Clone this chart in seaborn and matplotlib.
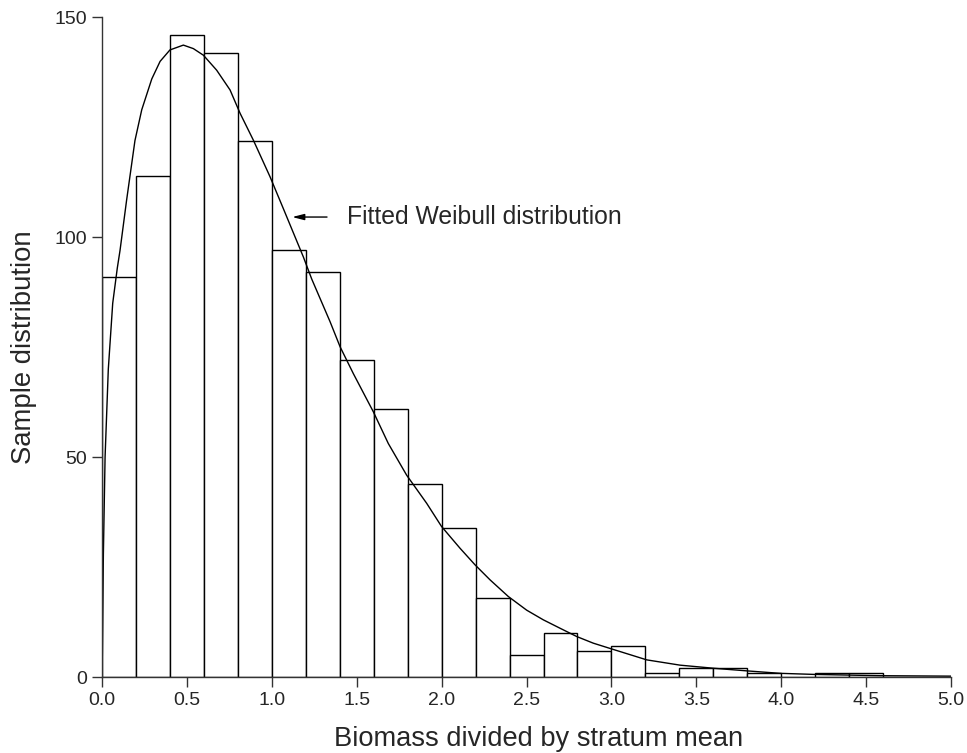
import numpy as np
import pandas as pd
import matplotlib
matplotlib.use("Agg")
import matplotlib.pyplot as plt
import seaborn as sns

# Histogram of biomass relative to the stratum mean (bin width 0.2)
bin_edges = [0.0, 0.2, 0.4, 0.6, 0.8, 1.0, 1.2, 1.4, 1.6, 1.8, 2.0, 2.2, 2.4,
             2.6, 2.8, 3.0, 3.2, 3.4, 3.6, 3.8, 4.0, 4.2, 4.4, 4.6, 4.8, 5.0]
counts = [91, 114, 146, 142, 122, 97, 92, 72, 61, 44, 34, 18, 5,
          10, 6, 7, 1, 2, 2, 1, 0, 1, 1, 0, 0]

# Fitted Weibull curve, scaled to the histogram counts
weibull_x = [0.0, 0.002, 0.008, 0.018, 0.037, 0.063, 0.09, 0.106, 0.145, 0.194,
             0.234, 0.293, 0.342, 0.4, 0.479, 0.538, 0.597, 0.675, 0.754, 0.813,
             0.891, 0.989, 1.068, 1.127, 1.186, 1.235, 1.343, 1.402, 1.48, 1.598,
             1.686, 1.794, 1.912, 2.0, 2.108, 2.197, 2.285, 2.393, 2.501, 2.599,
             2.697, 2.796, 2.893, 2.992, 3.208, 3.404, 3.6, 3.797, 3.993, 4.19,
             4.386, 4.58, 5.0]
weibull_y = [0.0, 5.4, 28.0, 50.0, 70.0, 85.0, 93.0, 97.0, 108.5, 122.0,
             129.0, 136.0, 140.0, 142.6, 143.7, 142.9, 141.4, 138.0, 133.5, 128.2,
             122.1, 113.8, 106.5, 101.0, 95.5, 90.5, 80.8, 75.1, 69.0, 60.3,
             53.1, 45.9, 39.5, 34.2, 29.3, 25.5, 22.1, 18.3, 15.2, 13.0,
             11.1, 9.2, 7.7, 6.5, 3.9, 2.7, 2.0, 1.4, 0.84, 0.6,
             0.45, 0.3, 0.2]

x_ticks = [0.0, 0.5, 1.0, 1.5, 2.0, 2.5, 3.0, 3.5, 4.0, 4.5, 5.0]
y_ticks = [0, 50, 100, 150]

sns.set_style("ticks")
plt.rcParams["font.family"] = ["Liberation Sans", "DejaVu Sans"]

edges = np.array(bin_edges)
hist_df = pd.DataFrame({"biomass": (edges[:-1] + edges[1:]) / 2, "n": counts})
curve_df = pd.DataFrame({"biomass": weibull_x, "density": weibull_y})

fig = plt.figure(figsize=(9.67, 7.53), dpi=100)
ax = fig.add_axes([0.1055, 0.1009, 0.878, 0.876])

sns.histplot(data=hist_df, x="biomass", weights="n", bins=bin_edges, ax=ax,
             color="white", edgecolor="black", linewidth=1.0, alpha=1.0)
sns.lineplot(data=curve_df, x="biomass", y="density", ax=ax, color="black",
             linewidth=1.0, estimator=None, sort=False)

ax.set_xlim(0, 5.0)
ax.set_ylim(0, 150)
ax.set_xticks(x_ticks)
ax.set_xticklabels([f"{t:.1f}" for t in x_ticks])
ax.set_yticks(y_ticks)
ax.tick_params(axis="both", labelsize=14, length=7, width=1.0,
               color="#333333", direction="out", pad=4)
for side in ("left", "bottom"):
    ax.spines[side].set_color("#333333")
    ax.spines[side].set_linewidth(1.0)
sns.despine(ax=ax)

ax.set_xlabel("Biomass divided by stratum mean", fontsize=19.6)
ax.xaxis.set_label_coords(0.514, -0.075)
ax.set_ylabel("Sample distribution", fontsize=19.8)
ax.yaxis.set_label_coords(-0.077, 0.5)

ax.annotate("", xy=(1.12, 104.6), xytext=(1.325, 104.6),
            arrowprops=dict(arrowstyle="-|>,head_length=0.7,head_width=0.18",
                            color="black", lw=1.0, shrinkA=0, shrinkB=0))
ax.text(1.44, 104.6, "Fitted Weibull distribution", fontsize=17.8,
        ha="left", va="center")

fig.savefig("out.png", dpi=100)
